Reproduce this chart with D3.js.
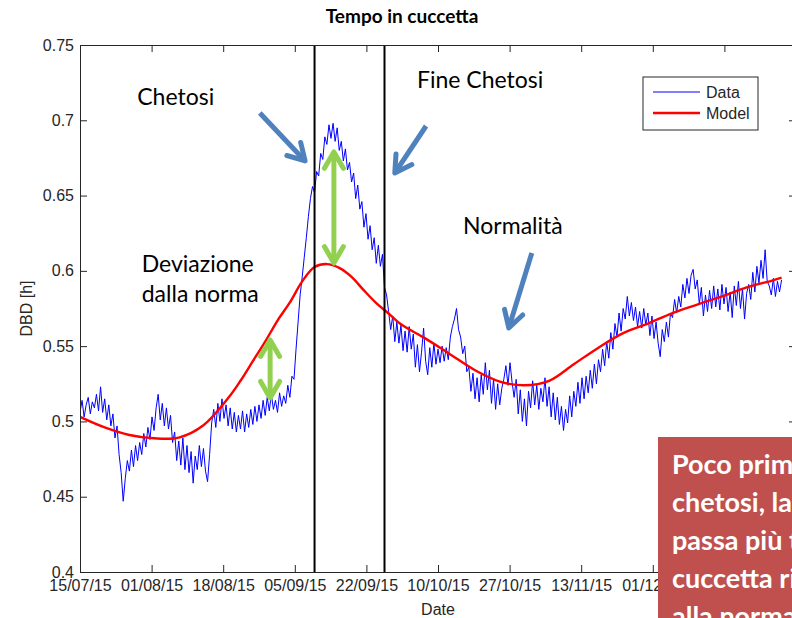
<!DOCTYPE html>
<html>
<head>
<meta charset="utf-8">
<script src="https://cdn.jsdelivr.net/npm/d3@7"></script>
<style>
  html, body { margin: 0; padding: 0; background: #ffffff; }
  svg { display: block; }
</style>
</head>
<body>
<svg id="chart" width="792" height="618"></svg>
<script>
// ---- Data -------------------------------------------------------------
// Daily lying time (DBD, hours) sampled every half day from 15/07/15.
const seriesStart = "2015-07-15";
const sampleStepDays = 0.5;
const dbdValues = [
  0.506, 0.514, 0.503, 0.511, 0.516, 0.505, 0.513, 0.509, 0.518, 0.507,
  0.523, 0.506, 0.515, 0.501, 0.511, 0.497, 0.505, 0.489, 0.497, 0.478,
  0.466, 0.447, 0.462, 0.474, 0.467, 0.481, 0.470, 0.484, 0.474, 0.486,
  0.478, 0.492, 0.483, 0.496, 0.488, 0.503, 0.494, 0.509, 0.518, 0.501,
  0.512, 0.497, 0.509, 0.495, 0.504, 0.486, 0.493, 0.474, 0.487, 0.471,
  0.489, 0.468, 0.484, 0.466, 0.480, 0.459, 0.477, 0.468, 0.484, 0.470,
  0.482, 0.467, 0.460, 0.478, 0.499, 0.508, 0.496, 0.512, 0.500, 0.515,
  0.502, 0.511, 0.497, 0.509, 0.495, 0.506, 0.493, 0.504, 0.495, 0.507,
  0.493, 0.505, 0.496, 0.508, 0.498, 0.510, 0.500, 0.511, 0.502, 0.514,
  0.504, 0.516, 0.507, 0.518, 0.508, 0.514, 0.506, 0.519, 0.510, 0.517,
  0.512, 0.524, 0.516, 0.530, 0.528, 0.548, 0.566, 0.584, 0.596, 0.609,
  0.622, 0.636, 0.648, 0.656, 0.652, 0.666, 0.663, 0.678, 0.674, 0.689,
  0.684, 0.697, 0.688, 0.698, 0.686, 0.695, 0.680, 0.686, 0.673, 0.681,
  0.667, 0.672, 0.659, 0.665, 0.648, 0.657, 0.641, 0.646, 0.629, 0.638,
  0.621, 0.630, 0.614, 0.622, 0.605, 0.617, 0.603, 0.611, 0.589, 0.584,
  0.573, 0.561, 0.570, 0.553, 0.566, 0.552, 0.564, 0.547, 0.560, 0.546,
  0.563, 0.548, 0.558, 0.536, 0.551, 0.533, 0.546, 0.562, 0.540, 0.531,
  0.549, 0.536, 0.552, 0.538, 0.548, 0.539, 0.550, 0.540, 0.549, 0.541,
  0.556, 0.563, 0.568, 0.575, 0.561, 0.556, 0.545, 0.550, 0.533, 0.536,
  0.520, 0.532, 0.515, 0.529, 0.513, 0.531, 0.518, 0.539, 0.521, 0.534,
  0.512, 0.528, 0.508, 0.525, 0.511, 0.522, 0.528, 0.537, 0.524, 0.539,
  0.526, 0.516, 0.528, 0.505, 0.521, 0.500, 0.515, 0.497, 0.520, 0.509,
  0.527, 0.511, 0.524, 0.508, 0.522, 0.513, 0.529, 0.510, 0.523, 0.503,
  0.519, 0.501, 0.516, 0.498, 0.510, 0.494, 0.508, 0.499, 0.517, 0.503,
  0.520, 0.510, 0.526, 0.512, 0.529, 0.515, 0.530, 0.519, 0.534, 0.522,
  0.538, 0.525, 0.541, 0.533, 0.548, 0.537, 0.553, 0.542, 0.559, 0.548,
  0.565, 0.556, 0.572, 0.560, 0.575, 0.568, 0.583, 0.570, 0.579, 0.567,
  0.576, 0.563, 0.573, 0.562, 0.575, 0.564, 0.572, 0.557, 0.570, 0.555,
  0.566, 0.552, 0.543, 0.561, 0.553, 0.566, 0.556, 0.572, 0.569, 0.581,
  0.572, 0.583, 0.576, 0.591, 0.582, 0.595, 0.585, 0.597, 0.601, 0.588,
  0.594, 0.578, 0.589, 0.570, 0.584, 0.573, 0.587, 0.575, 0.590, 0.576,
  0.588, 0.574, 0.591, 0.578, 0.589, 0.573, 0.586, 0.569, 0.590, 0.577,
  0.593, 0.575, 0.588, 0.568, 0.585, 0.591, 0.581, 0.599, 0.586, 0.603,
  0.592, 0.607, 0.595, 0.614, 0.593, 0.590, 0.584, 0.595, 0.583, 0.593,
  0.586, 0.594
];

// Fitted model: day offset from the series start and modelled DBD.
const modelDays = [0, 6, 12, 18, 24, 30, 36, 39, 42, 45, 48, 51, 54, 57, 60, 63, 66, 69,
  72, 75, 78, 84, 90, 96, 102, 108, 114, 120, 126, 132, 138, 144, 150, 156, 162, 168, 170.5];
const modelValues = [0.503, 0.496, 0.491, 0.4888, 0.4893, 0.4975, 0.5155, 0.527, 0.540,
  0.553, 0.567, 0.579, 0.593, 0.6025, 0.6045, 0.602, 0.596, 0.587, 0.5786, 0.5717, 0.5645,
  0.555, 0.5445, 0.534, 0.5265, 0.524, 0.527, 0.538, 0.549, 0.5586, 0.565, 0.572, 0.5776,
  0.583, 0.589, 0.5934, 0.5955];

// Axis extent and ticks
const axisSpanDays = 174;
const xTickStepDays = 17.4;
const xTickLabels = ["15/07/15", "01/08/15", "18/08/15", "05/09/15", "22/09/15",
  "10/10/15", "27/10/15", "13/11/15", "01/12/15", "18/12/15", "05/01/16"];
const yDomain = [0.4, 0.75];
const yTicks = [0.4, 0.45, 0.5, 0.55, 0.6, 0.65, 0.7, 0.75];

// Start and end of the ketosis episode
const eventDates = ["2015-09-10", "2015-09-27"];

// Slide annotations, placed in (day offset, DBD) coordinates
const noteTexts = [
  { text: "Chetosi", day: 13.9, value: 0.7103 },
  { text: "Fine Chetosi", day: 81.9, value: 0.7213 },
  { text: "Normalità", day: 93.1, value: 0.6246 },
  { text: "Deviazione", day: 15.0, value: 0.5994 },
  { text: "dalla norma", day: 15.0, value: 0.5795 }
];
const blueArrows = [
  { from: [43.7, 0.7048], to: [54.7, 0.6730] },
  { from: [84.1, 0.6962], to: [76.5, 0.6650] },
  { from: [109.8, 0.6119], to: [104.2, 0.5621] }
];
const greenArrows = [
  { day: 46.2, top: 0.5541, bottom: 0.5156 },
  { day: 61.7, top: 0.6790, bottom: 0.6052 }
];
const calloutLines = ["Poco prima della", "chetosi, la bovina", "passa più tempo in",
  "cuccetta rispetto", "alla norma"];

// ---- Scales ------------------------------------------------------------
const DAY = 864e5;
const t0 = Date.parse(seriesStart + "T00:00:00Z");
const dayToDate = d => new Date(t0 + d * DAY);

const plot = { left: 80, top: 45, right: 796, bottom: 572 };
const x = d3.scaleUtc()
  .domain([dayToDate(0), dayToDate(axisSpanDays)])
  .range([plot.left, plot.right]);
const y = d3.scaleLinear().domain(yDomain).range([plot.bottom, plot.top]);

const svg = d3.select("#chart");
const axisColor = "#262626";
const tickFont = "'Liberation Sans', Arial, sans-serif";
const slideFont = "Lato, 'Open Sans', sans-serif";

// ---- Series ------------------------------------------------------------
const dataPoints = dbdValues.map((v, i) => ({ date: dayToDate(i * sampleStepDays), value: v }));
const modelPoints = modelDays.map((d, i) => ({ date: dayToDate(d), value: modelValues[i] }));

svg.append("defs").append("clipPath").attr("id", "plotClip")
  .append("rect")
  .attr("x", plot.left).attr("y", plot.top)
  .attr("width", plot.right - plot.left).attr("height", plot.bottom - plot.top);

const plotArea = svg.append("g").attr("clip-path", "url(#plotClip)");

plotArea.append("path")
  .datum(dataPoints)
  .attr("fill", "none")
  .attr("stroke", "#0000ff")
  .attr("stroke-width", 1)
  .attr("d", d3.line().x(d => x(d.date)).y(d => y(d.value)));

plotArea.append("path")
  .datum(modelPoints)
  .attr("fill", "none")
  .attr("stroke", "#ff0000")
  .attr("stroke-width", 2.4)
  .attr("stroke-linejoin", "round")
  .attr("d", d3.line().curve(d3.curveCatmullRom.alpha(0.5)).x(d => x(d.date)).y(d => y(d.value)));

// Ketosis start / end markers
plotArea.selectAll("line.event")
  .data(eventDates)
  .join("line")
  .attr("class", "event")
  .attr("x1", d => x(new Date(d + "T00:00:00Z")))
  .attr("x2", d => x(new Date(d + "T00:00:00Z")))
  .attr("y1", y(yDomain[1]))
  .attr("y2", y(yDomain[0]))
  .attr("stroke", "#000")
  .attr("stroke-width", 2);

// ---- Axes (boxed, ticks pointing inwards) -----------------------------
const xTickDates = xTickLabels.map((_, k) => dayToDate(k * xTickStepDays));

function styleAxis(g) {
  g.select(".domain").attr("stroke", axisColor);
  g.selectAll(".tick line").attr("stroke", axisColor);
  g.selectAll(".tick text")
    .attr("fill", axisColor)
    .style("font-family", tickFont)
    .style("font-size", "16px");
}

svg.append("g")
  .attr("transform", `translate(0,${plot.bottom})`)
  .call(d3.axisBottom(x).tickValues(xTickDates)
    .tickFormat((d, i) => xTickLabels[i])
    .tickSizeInner(-7).tickSizeOuter(0).tickPadding(8))
  .call(styleAxis);

svg.append("g")
  .attr("transform", `translate(0,${plot.top})`)
  .call(d3.axisTop(x).tickValues(xTickDates).tickFormat("")
    .tickSizeInner(-7).tickSizeOuter(0))
  .call(styleAxis);

svg.append("g")
  .attr("transform", `translate(${plot.left},0)`)
  .call(d3.axisLeft(y).tickValues(yTicks).tickFormat(d => String(+d.toFixed(2)))
    .tickSizeInner(-7).tickSizeOuter(0).tickPadding(6))
  .call(styleAxis);

svg.append("g")
  .attr("transform", `translate(${plot.right},0)`)
  .call(d3.axisRight(y).tickValues(yTicks).tickFormat("")
    .tickSizeInner(-7).tickSizeOuter(0))
  .call(styleAxis);

// Axis titles and chart title
svg.append("text")
  .attr("x", (plot.left + plot.right) / 2).attr("y", 615)
  .attr("text-anchor", "middle")
  .attr("fill", axisColor)
  .style("font-family", tickFont).style("font-size", "16px")
  .text("Date");

svg.append("text")
  .attr("transform", `translate(32,${(plot.top + plot.bottom) / 2}) rotate(-90)`)
  .attr("text-anchor", "middle")
  .attr("fill", axisColor)
  .style("font-family", tickFont).style("font-size", "16px")
  .text("DBD [h]");

svg.append("text")
  .attr("x", 402).attr("y", 23)
  .attr("text-anchor", "middle")
  .attr("fill", "#000")
  .style("font-family", slideFont).style("font-weight", 700).style("font-size", "19px")
  .text("Tempo in cuccetta");

// ---- Legend ------------------------------------------------------------
const legend = svg.append("g").attr("transform", "translate(643,77)");
legend.append("rect")
  .attr("width", 115).attr("height", 53)
  .attr("fill", "#fff").attr("stroke", axisColor).attr("stroke-width", 1);
const legendItems = [
  { label: "Data", color: "#0000ff", width: 1 },
  { label: "Model", color: "#ff0000", width: 2.4 }
];
legendItems.forEach((item, i) => {
  const cy = 15 + i * 21;
  legend.append("line")
    .attr("x1", 10).attr("x2", 57).attr("y1", cy).attr("y2", cy)
    .attr("stroke", item.color).attr("stroke-width", item.width);
  legend.append("text")
    .attr("x", 63).attr("y", cy).attr("dy", "0.36em")
    .attr("fill", axisColor)
    .style("font-family", tickFont).style("font-size", "16px")
    .text(item.label);
});

// ---- Slide annotations ---------------------------------------------------
svg.selectAll("text.note")
  .data(noteTexts)
  .join("text")
  .attr("class", "note")
  .attr("x", d => x(dayToDate(d.day)))
  .attr("y", d => y(d.value))
  .attr("fill", "#000")
  .style("font-family", slideFont).style("font-size", "23px")
  .text(d => d.text);

function chevron(tip, ux, uy, len, ang) {
  const bx = -ux, by = -uy, c = Math.cos(ang), s = Math.sin(ang);
  return [
    [tip[0] + len * (bx * c - by * s), tip[1] + len * (bx * s + by * c)],
    tip,
    [tip[0] + len * (bx * c + by * s), tip[1] + len * (-bx * s + by * c)]
  ];
}

function drawArrow(p0, p1, color, width, bothEnds) {
  const dx = p1[0] - p0[0], dy = p1[1] - p0[1];
  const L = Math.hypot(dx, dy), ux = dx / L, uy = dy / L;
  const g = svg.append("g")
    .attr("fill", "none").attr("stroke", color).attr("stroke-width", width)
    .attr("stroke-linejoin", "round").attr("stroke-linecap", "round");
  const inset = 2;
  const a = bothEnds ? [p0[0] + ux * inset, p0[1] + uy * inset] : p0;
  const b = [p1[0] - ux * inset, p1[1] - uy * inset];
  g.append("line").attr("x1", a[0]).attr("y1", a[1]).attr("x2", b[0]).attr("y2", b[1])
    .attr("stroke-linecap", "butt");
  g.append("path").attr("d", d3.line()(chevron(p1, ux, uy, 19, Math.PI / 6)));
  if (bothEnds) g.append("path").attr("d", d3.line()(chevron(p0, -ux, -uy, 19, Math.PI / 6)));
}

blueArrows.forEach(a => drawArrow(
  [x(dayToDate(a.from[0])), y(a.from[1])],
  [x(dayToDate(a.to[0])), y(a.to[1])],
  "#4f81bd", 5, false));

greenArrows.forEach(a => drawArrow(
  [x(dayToDate(a.day)), y(a.top)],
  [x(dayToDate(a.day)), y(a.bottom)],
  "#92d050", 5, true));

// ---- Callout box ---------------------------------------------------------
const callout = svg.append("g").attr("transform", "translate(658,437)");
callout.append("rect").attr("width", 160).attr("height", 200).attr("fill", "#c0504d");
callout.selectAll("text")
  .data(calloutLines)
  .join("text")
  .attr("x", 14)
  .attr("y", (d, i) => 37 + i * 38)
  .attr("fill", "#ffffff")
  .style("font-family", slideFont).style("font-weight", 700).style("font-size", "27px")
  .text(d => d);
</script>
</body>
</html>
